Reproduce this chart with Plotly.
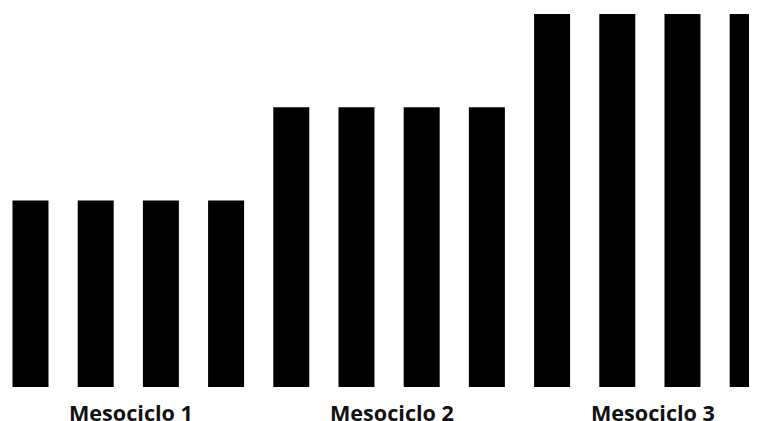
import plotly.graph_objects as go

weeks = list(range(12))
values = [2, 2, 2, 2, 3, 3, 3, 3, 4, 4, 4, 4]
labels = ["Mesociclo 1", "Mesociclo 2", "Mesociclo 3"]
label_pos = [1.5, 5.5, 9.5]

fig = go.Figure()
fig.add_trace(go.Bar(x=weeks, y=values, marker=dict(color="#000000", line=dict(width=0)),
                     width=0.552, hoverinfo="skip"))

for lab, pos in zip(labels, label_pos):
    fig.add_annotation(x=pos, y=0, xref="x", yref="paper", yanchor="top", xanchor="center",
                       text="<b>" + lab + "</b>", showarrow=False, xshift=3, yshift=-8.5,
                       font=dict(family="Open Sans", size=21.6, color="#111111"))

# page body has an 8px margin; figure sized so the visible window matches
fig.update_layout(
    width=749, height=413,
    margin=dict(l=0, r=0, t=0, b=34),
    plot_bgcolor="white", paper_bgcolor="white",
    showlegend=False,
    xaxis=dict(range=[-0.345, 11.143], visible=False, fixedrange=True),
    yaxis=dict(range=[0, 4.064], visible=False, fixedrange=True),
)
fig.write_html("out.html", config={"displayModeBar": False})
